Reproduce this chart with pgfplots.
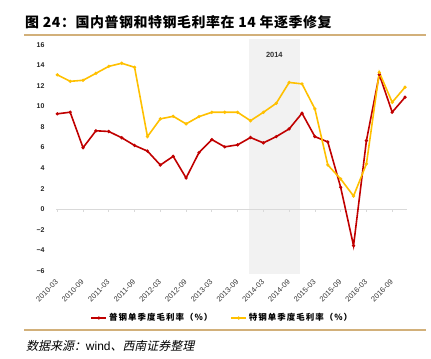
\documentclass[border=0pt]{standalone}
\usepackage{pgfplots}
\pgfplotsset{compat=1.18}
\usepackage{fontspec}
\setmainfont{Liberation Sans}
\newfontfamily\cjk{Noto Sans CJK SC}
\newfontfamily\cjkt{Noto Sans CJK SC}[LetterSpace=4]
\newfontfamily\cjklg{Noto Sans CJK SC}[LetterSpace=12]
\newfontfamily\cjksl{Noto Sans CJK SC}[FakeSlant=0.22]
\definecolor{redl}{HTML}{C00000}
\definecolor{yell}{HTML}{FFC000}
\definecolor{tanc}{HTML}{D2B07A}
\definecolor{shadec}{HTML}{F2F2F2}
\pgfplotstableread{
x red yel
0 9.29 13.09
1 9.45 12.46
2 5.99 12.56
3 7.64 13.24
4 7.57 13.92
5 6.96 14.22
6 6.21 13.83
7 5.66 7.07
8 4.30 8.80
9 5.15 9.05
10 3.04 8.31
11 5.51 9.02
12 6.78 9.44
13 6.07 9.44
14 6.27 9.44
15 6.98 8.62
16 6.46 9.44
17 7.07 10.32
18 7.82 12.35
19 9.35 12.21
20 7.07 9.77
21 6.55 4.31
22 2.13 2.94
23 -3.56 1.28
24 6.68 4.41
25 13.12 13.33
26 9.45 10.42
27 10.91 11.89
}\datatable
\begin{document}
\begin{tikzpicture}
\useasboundingbox (0bp,0bp) rectangle (431bp,359bp);
\draw[tanc, line width=1.5bp] (24bp,324bp) -- (426bp,324bp);
\draw[tanc, line width=1.5bp] (24bp,29bp) -- (426bp,29bp);
\node[anchor=west, inner sep=0pt] at (25bp,336.5bp) {\fontsize{14}{15}\cjkt\bfseries 图 24：国内普钢和特钢毛利率在 14 年逐季修复};
\node[anchor=west, inner sep=0pt] at (26bp,13bp) {\fontsize{12}{13}\cjksl 数据来源：{\normalfont\fontsize{12}{13}\selectfont wind}、西南证券整理};
\begin{axis}[
  at={(56bp,88.3bp)}, anchor=south west,
  scale only axis, width=351bp, height=225.7bp,
  xmin=-0.1, xmax=27.15, ymin=-6, ymax=16,
  axis line style={draw=none},
  tick style={draw=none},
  clip=false,
  xtick={0,2,...,26},
  xticklabels={2010-03,2010-09,2011-03,2011-09,2012-03,2012-09,2013-03,2013-09,2014-03,2014-09,2015-03,2015-09,2016-03,2016-09},
  x tick label style={font=\fontsize{7.5}{8}\selectfont, text=black!80, xshift=2bp, yshift=-8bp, rotate=45, anchor=east},
  ytick={-6,-4,...,16},
  yticklabels={−6,−4,−2,0,2,4,6,8,10,12,14,16},
  y tick label style={font=\fontsize{7}{8}\selectfont\bfseries, text=black!85, xshift=-8bp},
  legend style={at={(axis description cs:0.474,-0.2096)}, anchor=center, legend columns=2, draw=none, fill=none,
    font=\fontsize{8.5}{9}\selectfont, /tikz/every even column/.append style={column sep=16bp}},
  legend image code/.code={\draw[mark repeat=2,mark phase=2,#1] plot coordinates {(0bp,0bp) (7.5bp,0bp) (15bp,0bp)};},
]
\addplot[fill=shadec, draw=none, forget plot] coordinates {(14.9,-6.3) (18.87,-6.3) (18.87,16.6) (14.9,16.6)} -- cycle;
\addplot[draw=black!15, line width=0.8bp, forget plot] coordinates {(-0.1,0) (27.15,0)};
\pgfplotsinvokeforeach{0,2,...,26}{\addplot[draw=black!15, line width=0.8bp, forget plot] coordinates {(#1,0) (#1,-0.32)};}
\node[font=\fontsize{7.5}{8}\selectfont\bfseries, text=black!80] at (axis cs:16.85,15.0) {2014};
\addplot[redl, line width=1.6bp, mark=*, mark size=0.7bp] table[x=x, y=red] {\datatable};
\addlegendentry{\cjklg\bfseries 普钢单季度毛利率（\%）}
\addplot[yell, line width=1.6bp, mark=*, mark size=0.7bp] table[x=x, y=yel] {\datatable};
\addlegendentry{\cjklg\bfseries 特钢单季度毛利率（\%）}
\end{axis}
\end{tikzpicture}
\end{document}
